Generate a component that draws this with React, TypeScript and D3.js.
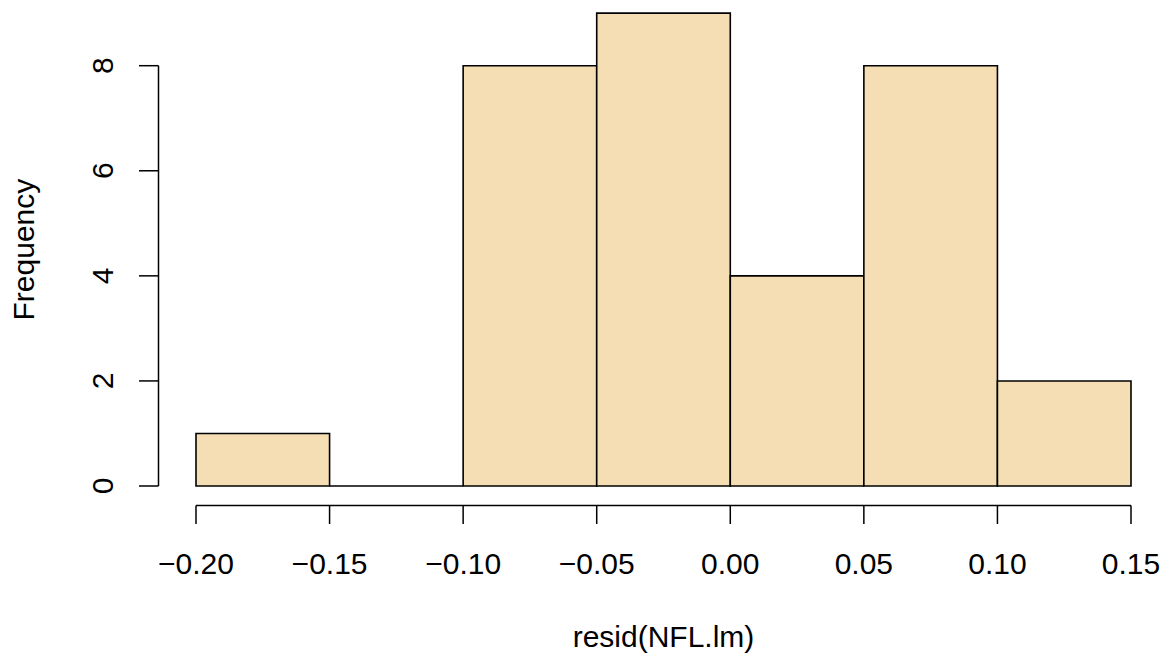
import React from "react";
import * as d3 from "d3";

const breaks = [-0.2, -0.15, -0.1, -0.05, 0.0, 0.05, 0.1, 0.15];
const counts = [1, 0, 8, 9, 4, 8, 2];
const xTicks = [-0.2, -0.15, -0.1, -0.05, 0.0, 0.05, 0.1, 0.15];
const yTicks = [0, 2, 4, 6, 8];
const xLabel = "resid(NFL.lm)";
const yLabel = "Frequency";

const W = 1170, H = 660;
const FONT = "'Liberation Sans', Arial, Helvetica, sans-serif";

export default function App() {
  const x = d3.scaleLinear().domain([-0.2, 0.15]).range([196, 1131]);
  const y = d3.scaleLinear().domain([0, 8]).range([486, 65.7]);
  const fmt = (v: number) => {
    const s = Math.abs(v).toFixed(2);
    return v < -1e-9 ? "\u2212" + s : s;
  };
  const axisY = 505.5;
  const axisX = 158.5;
  return (
    <svg width={W} height={H} style={{ position: "absolute", left: 0, top: 0, background: "#fff" }}>
      <rect x={0} y={0} width={W} height={H} fill="#fff" />
      {counts.map((c, i) => {
        const x0 = x(breaks[i]);
        const x1 = x(breaks[i + 1]);
        const y0 = y(0);
        const y1 = y(c);
        return (
          <path
            key={i}
            d={`M${x0},${y0}H${x1}V${y1}H${x0}Z`}
            fill="#F5DEB3"
            stroke="#000"
            strokeWidth={1.6}
          />
        );
      })}
      {/* x axis */}
      <line x1={x(xTicks[0])} x2={x(xTicks[xTicks.length - 1])} y1={axisY} y2={axisY} stroke="#000" strokeWidth={1.5} />
      {xTicks.map((t, i) => (
        <g key={i}>
          <line x1={x(t)} x2={x(t)} y1={axisY} y2={524} stroke="#000" strokeWidth={1.5} />
          <text x={x(t)} y={574} textAnchor="middle" fontFamily={FONT} fontSize={30} fill="#000">
            {fmt(t)}
          </text>
        </g>
      ))}
      {/* y axis */}
      <line x1={axisX} x2={axisX} y1={y(yTicks[0])} y2={y(yTicks[yTicks.length - 1])} stroke="#000" strokeWidth={1.5} />
      {yTicks.map((t, i) => (
        <g key={i}>
          <line x1={139} x2={axisX} y1={y(t)} y2={y(t)} stroke="#000" strokeWidth={1.5} />
          <text
            transform={`translate(112.5,${y(t)}) rotate(-90)`}
            textAnchor="middle"
            fontFamily={FONT}
            fontSize={30}
            fill="#000"
          >
            {t}
          </text>
        </g>
      ))}
      <text x={663.5} y={647} textAnchor="middle" fontFamily={FONT} fontSize={30} fill="#000">
        {xLabel}
      </text>
      <text
        transform={`translate(33.5,${(y(0) + y(9)) / 2}) rotate(-90)`}
        textAnchor="middle"
        fontFamily={FONT}
        fontSize={30}
        fill="#000"
      >
        {yLabel}
      </text>
    </svg>
  );
}
